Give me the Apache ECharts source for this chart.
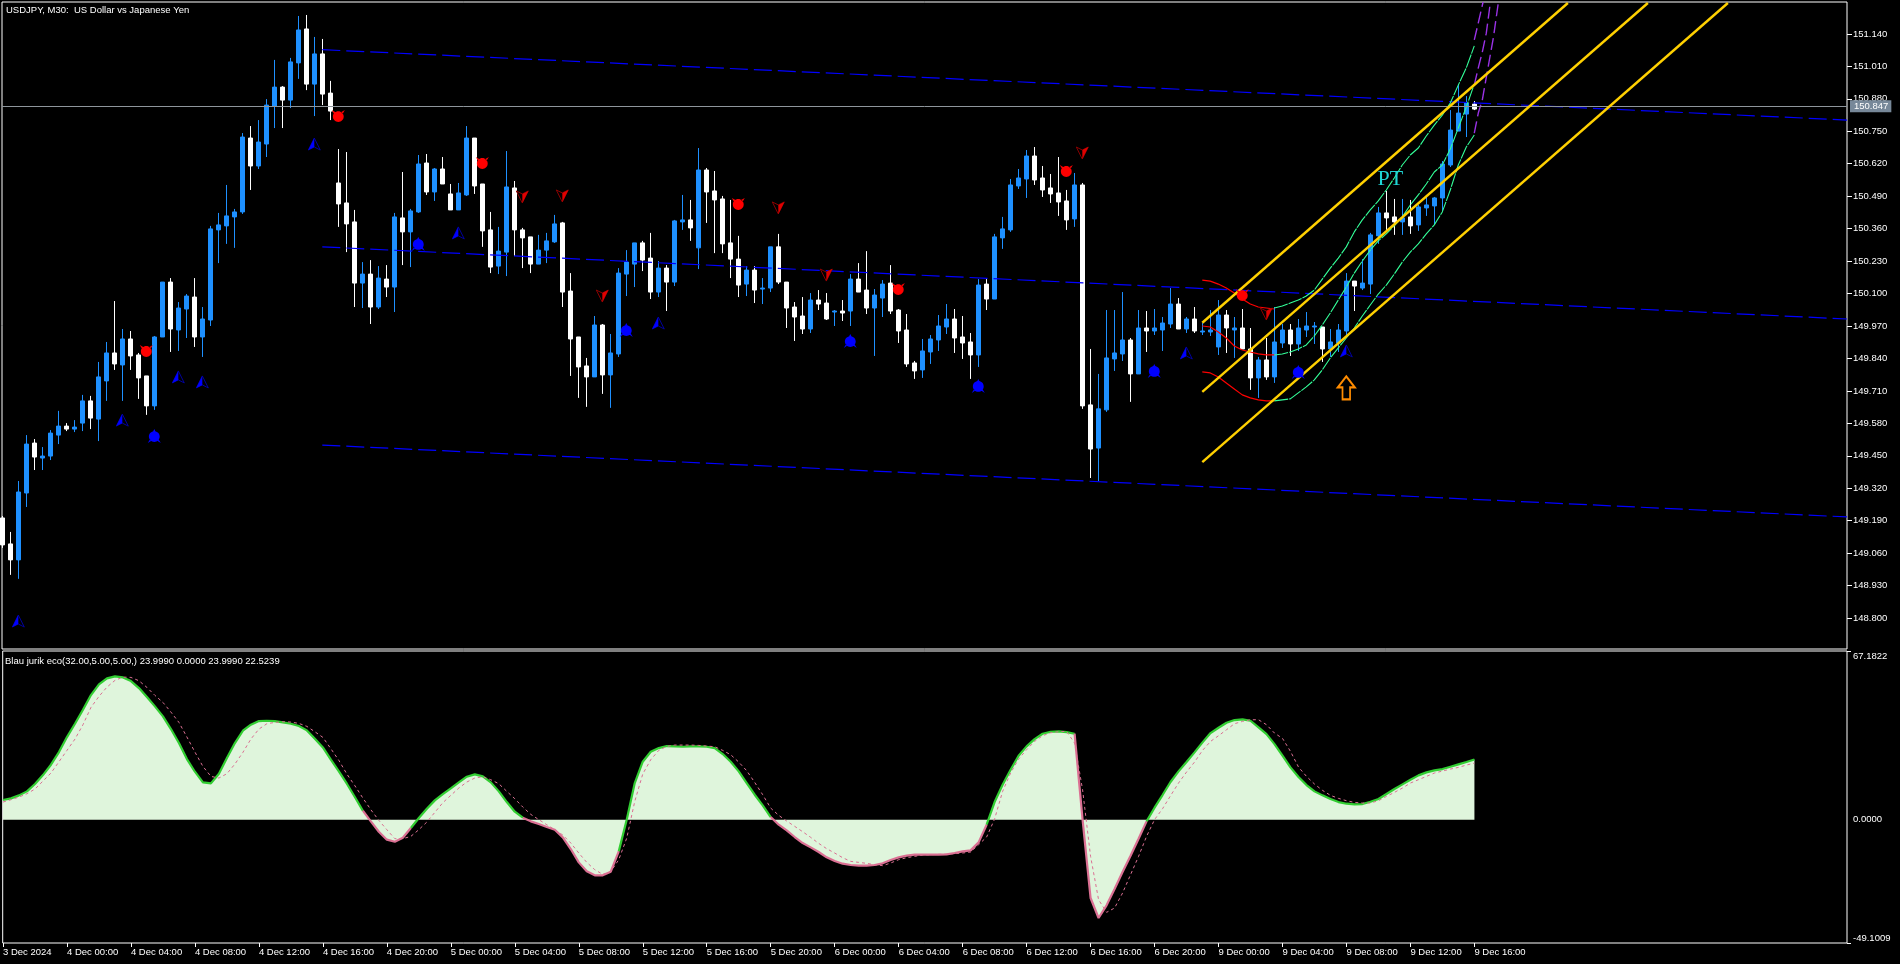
<!DOCTYPE html>
<html><head><meta charset="utf-8"><style>html,body{margin:0;padding:0;background:#000}#c{width:1900px;height:964px}</style>
<script src="https://cdn.jsdelivr.net/npm/echarts@6/dist/echarts.min.js"></script></head><body><div id="c"></div>
<script>
const opens=[149.201,149.097,149.033,149.301,149.501,149.441,149.449,149.533,149.569,149.557,
149.581,149.670,149.597,149.750,149.862,149.814,149.918,149.854,149.770,149.650,
149.926,150.146,149.954,150.038,150.086,149.926,149.994,150.355,150.371,150.407,
150.427,150.723,150.611,150.699,150.851,150.927,150.875,151.024,151.160,150.939,
151.060,150.903,150.543,150.463,150.387,150.142,150.178,150.046,150.158,150.126,
150.403,150.347,150.427,150.623,150.507,150.599,150.499,150.435,150.495,150.723,
150.539,150.355,150.210,150.266,150.523,150.355,150.327,150.218,150.274,150.307,
150.383,150.110,149.926,149.810,149.766,149.974,149.774,149.858,150.178,150.218,
150.303,150.242,150.106,150.202,150.146,150.387,150.395,150.283,150.595,150.511,
150.479,150.303,150.238,150.138,150.194,150.118,150.122,150.287,150.146,150.046,
150.010,149.958,150.074,150.062,150.026,150.030,150.030,150.158,150.114,150.042,
150.082,150.142,150.034,149.954,149.822,149.794,149.866,149.914,149.966,149.998,
149.926,149.906,149.854,150.138,150.078,150.323,150.355,150.531,150.559,150.651,
150.563,150.523,150.503,150.471,150.399,150.535,149.654,149.481,149.634,149.838,
149.858,149.914,149.778,149.962,149.950,149.954,149.978,150.058,149.958,149.998,
149.946,149.946,149.886,150.014,149.954,149.962,149.878,149.762,149.834,149.766,
149.902,149.954,149.898,149.954,149.966,149.966,149.878,149.902,149.950,150.150,
150.122,150.138,150.331,150.423,150.407,150.387,150.407,150.375,150.443,150.451,
150.483,150.615,150.751,150.819,150.859];
const closes=[149.093,149.033,149.305,149.497,149.445,149.449,149.541,149.569,149.557,149.565,
149.670,149.601,149.766,149.862,149.818,149.918,149.850,149.762,149.650,149.926,
150.146,149.958,150.042,150.090,149.926,149.998,150.359,150.375,150.411,150.427,
150.727,150.611,150.707,150.855,150.927,150.875,151.028,151.156,150.939,151.060,
150.899,150.831,150.459,150.379,150.142,150.178,150.046,150.162,150.126,150.407,
150.347,150.431,150.619,150.507,150.599,150.539,150.435,150.503,150.723,150.531,
150.351,150.206,150.270,150.527,150.355,150.323,150.218,150.274,150.311,150.379,
150.106,149.918,149.806,149.766,149.974,149.774,149.862,150.182,150.226,150.303,
150.234,150.106,150.202,150.146,150.391,150.395,150.363,150.595,150.507,150.475,
150.299,150.238,150.134,150.194,150.114,150.122,150.287,150.146,150.042,150.006,
149.958,150.074,150.058,149.998,150.030,150.022,150.158,150.106,150.042,150.094,
150.138,150.030,149.950,149.818,149.790,149.870,149.918,149.970,149.998,149.922,
149.902,149.854,150.134,150.078,150.327,150.359,150.535,150.563,150.651,150.555,
150.515,150.499,150.467,150.395,150.535,149.650,149.477,149.638,149.842,149.862,
149.914,149.778,149.962,149.950,149.962,149.982,150.058,149.958,149.998,149.950,
149.950,149.954,150.014,149.962,149.962,149.878,149.762,149.834,149.766,149.906,
149.954,149.898,149.962,149.970,149.970,149.878,149.906,149.954,150.150,150.130,
150.142,150.335,150.423,150.403,150.387,150.403,150.371,150.447,150.455,150.483,
150.619,150.755,150.823,150.863,150.839];
const highs=[149.209,149.145,149.349,149.533,149.517,149.485,149.553,149.630,149.581,149.593,
149.694,149.690,149.826,149.906,150.070,149.958,149.950,149.862,149.770,149.930,
150.146,150.162,150.066,150.098,150.162,150.046,150.371,150.423,150.535,150.439,
150.743,150.771,150.795,150.879,151.036,150.931,151.044,151.212,151.216,151.128,
151.120,150.952,150.679,150.667,150.435,150.226,150.234,150.210,150.214,150.423,
150.587,150.439,150.655,150.659,150.603,150.647,150.539,150.543,150.771,150.723,
150.539,150.427,150.367,150.671,150.551,150.363,150.327,150.335,150.343,150.415,
150.387,150.182,149.926,149.842,150.010,149.978,149.938,150.202,150.274,150.303,
150.311,150.343,150.230,150.214,150.395,150.495,150.475,150.683,150.603,150.591,
150.491,150.475,150.331,150.210,150.210,150.162,150.287,150.339,150.146,150.066,
150.086,150.102,150.114,150.102,150.034,150.074,150.178,150.222,150.270,150.118,
150.154,150.214,150.038,150.018,149.830,149.918,149.934,150.014,150.058,150.038,
150.010,149.942,150.158,150.158,150.339,150.407,150.559,150.599,150.675,150.687,
150.611,150.579,150.647,150.515,150.583,150.543,149.878,149.778,150.034,150.034,
150.106,149.922,150.034,150.030,150.038,150.006,150.122,150.082,150.006,150.046,
149.982,150.034,150.074,150.034,150.006,150.038,149.962,149.846,149.922,150.046,
149.978,149.978,149.998,150.026,149.986,149.966,149.958,149.978,150.182,150.150,
150.238,150.343,150.447,150.511,150.479,150.479,150.475,150.455,150.487,150.487,
150.631,150.835,150.939,150.891,150.871];
const lows=[149.081,148.973,148.957,149.245,149.393,149.393,149.433,149.497,149.549,149.545,
149.549,149.557,149.509,149.670,149.794,149.670,149.794,149.678,149.614,149.634,
149.926,149.866,149.870,149.922,149.886,149.846,149.970,150.222,150.299,150.283,
150.419,150.515,150.599,150.647,150.763,150.763,150.843,150.960,150.915,150.811,
150.855,150.795,150.367,150.266,150.046,150.042,149.978,150.038,150.086,150.026,
150.214,150.206,150.423,150.495,150.471,150.539,150.435,150.435,150.491,150.499,
150.287,150.182,150.178,150.170,150.250,150.202,150.182,150.218,150.222,150.303,
150.046,149.770,149.682,149.646,149.766,149.698,149.642,149.846,150.090,150.126,
150.190,150.078,150.086,150.030,150.130,150.355,150.311,150.198,150.383,150.262,
150.262,150.162,150.086,150.090,150.062,150.058,150.106,150.138,149.962,149.910,
149.938,149.942,150.034,149.994,149.970,149.990,149.970,150.106,150.018,149.850,
150.006,150.018,149.902,149.806,149.758,149.762,149.818,149.870,149.938,149.862,
149.838,149.758,149.806,150.034,150.078,150.279,150.347,150.519,150.483,150.535,
150.487,150.463,150.411,150.355,150.367,149.638,149.361,149.349,149.626,149.790,
149.830,149.666,149.778,149.866,149.934,149.870,149.962,149.958,149.942,149.942,
149.934,149.930,149.854,149.862,149.842,149.878,149.714,149.682,149.754,149.742,
149.882,149.850,149.870,149.926,149.898,149.826,149.846,149.866,149.930,150.030,
150.114,150.098,150.299,150.355,150.335,150.335,150.339,150.351,150.411,150.375,
150.431,150.607,150.751,150.727,150.835];

const timeLabels=['3 Dec 2024','4 Dec 00:00','4 Dec 04:00','4 Dec 08:00','4 Dec 12:00','4 Dec 16:00','4 Dec 20:00',
'5 Dec 00:00','5 Dec 04:00','5 Dec 08:00','5 Dec 12:00','5 Dec 16:00','5 Dec 20:00',
'6 Dec 00:00','6 Dec 04:00','6 Dec 08:00','6 Dec 12:00','6 Dec 16:00','6 Dec 20:00',
'9 Dec 00:00','9 Dec 04:00','9 Dec 08:00','9 Dec 12:00','9 Dec 16:00'];
const barsPerTimeLabel=8;
const priceTicks=[151.140,151.010,150.880,150.750,150.620,150.490,150.360,150.230,150.100,149.970,149.840,149.710,149.580,149.450,149.320,149.190,149.060,148.930,148.800];
const lastPrice=150.847;

const blau=[7.83,8.49,9.69,11.28,14.20,17.78,21.90,26.94,32.91,38.22,
43.79,49.63,53.88,56.26,57.06,56.66,55.20,52.42,48.83,45.12,
41.14,36.09,30.52,24.15,19.11,14.86,14.46,18.31,24.55,30.52,
35.43,37.82,39.28,39.41,39.28,38.75,38.22,37.29,35.56,32.25,
28.80,23.89,19.24,14.33,9.02,3.58,-0.66,-4.78,-7.96,-8.76,
-7.17,-3.32,0.66,4.38,7.70,10.22,12.47,14.86,17.12,18.05,
17.25,14.86,11.28,7.03,3.18,0.80,-0.66,-1.73,-2.92,-3.98,
-7.03,-11.68,-16.99,-20.57,-22.16,-22.16,-20.70,-12.61,0.05,14.60,
23.09,27.07,28.53,29.33,29.19,29.06,29.19,29.19,29.06,28.53,
26.14,23.09,19.24,14.60,9.95,5.71,1.06,-1.99,-4.25,-6.90,
-9.29,-11.01,-12.87,-15.00,-16.45,-17.52,-18.05,-18.31,-18.31,-18.05,
-17.38,-16.06,-15.00,-14.33,-13.93,-13.93,-13.93,-13.93,-13.80,-13.27,
-12.61,-12.21,-9.02,-1.99,7.03,13.93,19.91,25.48,29.19,32.11,
34.24,35.03,35.17,34.90,34.24,0.05,-31.18,-39.15,-34.10,-27.60,
-20.83,-14.33,-7.56,-0.66,4.78,9.82,15.00,19.24,22.96,26.81,
30.79,34.50,36.63,38.62,39.68,39.94,39.41,36.76,34.10,30.12,
25.48,20.83,16.99,13.80,11.28,9.69,8.23,7.03,6.37,6.10,
6.24,7.17,8.23,10.22,12.21,14.07,15.92,17.65,18.84,19.64,
20.17,21.10,22.03,22.96,23.999];
const blauSignal=[7.03,7.96,9.02,10.35,12.21,15.39,18.58,23.09,27.60,32.11,
37.82,44.72,49.10,52.81,55.47,56.80,56.66,55.34,52.68,49.50,
46.71,42.86,38.75,32.91,26.94,21.23,17.25,16.59,18.31,22.16,
26.81,32.11,36.09,38.22,38.75,39.01,38.88,38.35,37.16,35.03,
32.78,28.27,23.62,18.18,13.54,8.63,3.98,-0.27,-3.98,-7.56,
-7.56,-6.64,-3.98,-0.93,2.92,6.77,9.69,12.61,15.00,16.59,
17.12,15.92,14.33,11.28,8.36,5.04,2.12,0.03,-1.99,-3.98,
-6.10,-9.29,-13.27,-16.99,-19.91,-21.76,-20.70,-15.92,-7.30,7.30,
18.18,23.89,27.60,29.19,29.72,29.72,29.72,29.59,29.33,29.06,
27.60,25.88,22.96,19.51,14.86,9.95,4.64,1.73,-0.53,-2.65,
-4.78,-7.03,-9.42,-11.54,-13.27,-15.13,-16.59,-16.99,-17.38,-17.91,
-18.31,-17.25,-15.92,-15.13,-14.60,-14.07,-13.93,-13.80,-13.67,-13.54,
-13.27,-12.87,-9.95,-6.90,0.27,11.28,18.58,24.15,27.87,31.18,
33.44,34.63,35.03,35.17,30.52,11.94,-14.60,-31.85,-36.89,-35.17,
-29.19,-21.90,-14.60,-6.64,0.03,4.38,9.55,14.60,18.98,22.96,
27.60,31.18,33.44,35.83,38.22,39.15,39.81,39.81,37.82,34.50,
32.38,27.20,20.97,17.25,14.20,11.68,9.69,8.49,7.56,6.90,
6.64,6.64,7.56,9.29,10.88,12.61,14.60,15.92,17.25,18.58,
19.37,20.17,20.83,21.76,22.5239];
const blauPinkRanges=[[45,51],[65,77],[96,123],[134,143]];

const trendTop=[[40,151.077],[230.6,150.795]];
const trendMid=[[40,150.287],[230.6,149.998]];
const trendLow=[[40,149.493],[230.6,149.205]];
const channelTop=[[150,149.983],[195.7,151.264]];
const channelMid=[[150,149.706],[205.7,151.264]];
const channelLow=[[150,149.425],[215.7,151.264]];

const curveRedFrom=150;
const redUpper=[150.154,150.150,150.138,150.122,150.102,150.078,150.058,150.046,150.042,150.038];
const redMiddle=[149.970,149.966,149.946,149.922,149.890,149.874,149.866,149.858,149.854,149.854];
const redLower=[149.786,149.782,149.766,149.742,149.718,149.694,149.682,149.674,149.670,149.670];
const curveGreenFrom=159;
const greenUpper=[150.042,150.050,150.062,150.074,150.090,150.114,150.158,150.202,150.242,150.287,150.347,150.395,150.435,150.471,150.515,150.563,150.615,150.655,150.683,150.731,150.775,150.815,150.863,150.935,151.004,151.092];
const greenMiddle=[149.854,149.858,149.866,149.878,149.894,149.930,149.974,150.022,150.074,150.126,150.182,150.230,150.274,150.311,150.339,150.371,150.407,150.455,150.495,150.539,150.587,150.615,150.679,150.763,150.847,150.939];
const greenLower=[149.670,149.674,149.678,149.702,149.726,149.754,149.794,149.842,149.882,149.922,149.962,150.010,150.054,150.098,150.134,150.178,150.226,150.266,150.299,150.339,150.375,150.427,150.515,150.615,150.687,150.735];
const purpleUpper=[[184,151.116],[184.5,151.184],[185.1,151.268]];
const purpleMiddle=[[184,150.935],[184.5,151.004],[185,151.067],[185.5,151.143],[186,151.264]];
const purpleLower=[[184,150.743],[184.5,150.823],[185,150.875],[185.6,150.984],[186.4,151.128],[187,151.264]];

const redDots=[[42,150.811],[60,150.623],[18,149.870],[92,150.459],[112,150.118],[133,150.591],[155,150.094]];
const blueDots=[[52,150.299],[19,149.529],[78,149.954],[106,149.910],[122,149.730],[144,149.790],[162,149.786]];
const blueArrows=[[39,150.699],[57,150.343],[2,148.788],[15,149.593],[22,149.766],[25,149.746],[82,149.982],[148,149.862],[168,149.870]];
const redArrows=[[65,150.487],[70,150.491],[75,150.090],[97,150.443],[103,150.174],[135,150.663],[158,150.018]];
const orangeArrow=[[168,149.722]];
const ptLabel=[[173.5,150.559]];

const FONT='"Liberation Sans",sans-serif', FS=9.5;
const xMin=-0.0375,xMax=230.59;
const timeTicks=timeLabels.map((_,i)=>i*barsPerTimeLabel);
const idx=a=>a.map((v,i)=>[i,v]);
const seq=(from,a)=>a.map((v,i)=>[from+i,v]);
const isPink=i=>blauPinkRanges.some(r=>i>=r[0]&&i<=r[1]);
const insidePink=i=>blauPinkRanges.some(r=>i>r[0]&&i<r[1]);
const line=(name,data,color,width,type,extra)=>Object.assign({name,type:'line',data,showSymbol:false,symbol:'none',
  lineStyle:{color,width,type},silent:true,animation:false,z:3},extra||{});
const sc=(name,data,symbol,size,color,border,extra)=>Object.assign({name,type:'scatter',data,symbol,symbolSize:size,
  itemStyle:{color,borderColor:border||color,borderWidth:border?1:0,opacity:1},silent:true,z:5},extra||{});

const CIRCLE='C1 4.2 3.2 2 6 2C8.8 2 11 4.2 11 7C11 9.8 8.8 12 6 12C3.2 12 1 9.8 1 7Z';
const RED_DOT='path://M1 7'+CIRCLE+'M0 1L3.5 3L2 4.5ZM12 1L8.5 3L10 4.5Z';
const BLUE_DOT='path://M1 7'+CIRCLE+'M6 0L7.5 3L4.5 3ZM0 13L3 11L2 9.5ZM12 13L9 11L10 9.5Z';
const UP_FULL='path://M6 0L12 12L6 9L0 12Z', DOWN_FULL='path://M6 12L12 0L6 3L0 0Z';
const UP_HALF='path://M6 0L6 9L0 12Z', DOWN_HALF='path://M6 12L6 3L12 0Z';
const HOLLOW_UP='path://M9 0L18 11L13 11L13 23L5 23L5 11L0 11Z';

const chart=echarts.init(document.getElementById('c'),null,{renderer:'canvas'});
chart.setOption({
  animation:false,backgroundColor:'#000',
  title:[
    {text:'USDJPY, M30:  US Dollar vs Japanese Yen',left:6,top:5,padding:0,textStyle:{color:'#fff',fontSize:FS,fontWeight:'normal',fontFamily:FONT}},
    {text:'Blau jurik eco(32.00,5.00,5.00,) 23.9990 0.0000 23.9990 22.5239',left:5,top:656,padding:0,textStyle:{color:'#fff',fontSize:FS,fontWeight:'normal',fontFamily:FONT}}
  ],
  grid:[
    {left:2,right:53,top:2,bottom:315,show:true,borderColor:'#fff',borderWidth:1,backgroundColor:'#000'},
    {left:2,right:53,top:651,bottom:21,show:true,borderColor:'#fff',borderWidth:1,backgroundColor:'#000'}
  ],
  xAxis:[
    {type:'value',gridIndex:0,min:xMin,max:xMax,axisLine:{show:false,onZero:false},axisTick:{show:false},axisLabel:{show:false},splitLine:{show:false}},
    {type:'value',gridIndex:1,min:xMin,max:xMax,position:'bottom',axisLine:{show:false,onZero:false},splitLine:{show:false},
     axisTick:{show:true,length:4,lineStyle:{color:'#fff',width:1},customValues:timeTicks},
     axisLabel:{show:true,customValues:timeTicks,color:'#fff',fontSize:FS,fontFamily:FONT,align:'left',margin:4,showMinLabel:true,showMaxLabel:true,hideOverlap:false,
       formatter:v=>timeLabels[Math.round(v/barsPerTimeLabel)]}}
  ],
  yAxis:[
    {type:'value',gridIndex:0,min:148.676,max:151.268,position:'right',axisLine:{show:false,onZero:false},splitLine:{show:false},
     axisTick:{show:true,length:5,lineStyle:{color:'#fff',width:1},customValues:priceTicks},
     axisLabel:{show:true,customValues:priceTicks,color:'#fff',fontSize:FS,fontFamily:FONT,margin:6,formatter:v=>v.toFixed(3)}},
    {type:'value',gridIndex:1,min:-49.1009,max:67.1822,position:'right',axisLine:{show:false,onZero:false},splitLine:{show:false},
     axisTick:{show:true,length:4,lineStyle:{color:'#fff',width:1},customValues:[-49.1009,67.1822]},
     axisLabel:{show:true,customValues:[-49.1009,0,67.1822],color:'#fff',fontSize:FS,fontFamily:FONT,margin:6,
       verticalAlignMinLabel:'bottom',verticalAlignMaxLabel:'top',formatter:v=>v.toFixed(4)}}
  ],
  series:[
    {name:'USDJPY',type:'candlestick',xAxisIndex:0,yAxisIndex:0,barWidth:5,clip:true,silent:true,z:2,
     encode:{x:0,y:[1,2,3,4]},
     data:opens.map((o,i)=>[i,o,closes[i],lows[i],highs[i]]),
     itemStyle:{color:'#1e90ff',color0:'#ffffff',borderColor:'#1e90ff',borderColor0:'#ffffff',borderWidth:1},
     markLine:{silent:true,symbol:'none',animation:false,z:4,lineStyle:{color:'#8e959b',width:1,type:'solid'},
       label:{show:true,position:'end',distance:3,formatter:()=>lastPrice.toFixed(3),color:'#fff',backgroundColor:'#778899',padding:[1,3,1,4],fontSize:FS,fontFamily:FONT},
       data:[{yAxis:lastPrice}]}},
    line('Trend top',trendTop,'#0000ff',1.2,[18,6]),
    line('Trend mid',trendMid,'#0000ff',1.2,[18,6]),
    line('Trend low',trendLow,'#0000ff',1.2,[18,6]),
    line('Red upper',seq(curveRedFrom,redUpper),'#ff0000',1.2,'solid'),
    line('Red middle',seq(curveRedFrom,redMiddle),'#ff0000',1.2,'solid'),
    line('Red lower',seq(curveRedFrom,redLower),'#ff0000',1.2,'solid'),
    line('Green upper',seq(curveGreenFrom,greenUpper),'#33ff99',1.1,[14,1]),
    line('Green middle',seq(curveGreenFrom,greenMiddle),'#33ff99',1.1,[14,1]),
    line('Green lower',seq(curveGreenFrom,greenLower),'#33ff99',1.1,[14,1]),
    line('Purple upper',purpleUpper,'#9a32e6',1.4,[12,5]),
    line('Purple middle',purpleMiddle,'#9a32e6',1.4,[12,5]),
    line('Purple lower',purpleLower,'#9a32e6',1.4,[12,5]),
    line('Channel top',channelTop,'#ffd000',2.4,'solid',{z:4}),
    line('Channel mid',channelMid,'#ffd000',2.4,'solid',{z:4}),
    line('Channel low',channelLow,'#ffd000',2.4,'solid',{z:4}),
    sc('Red dots',redDots,RED_DOT,[13,12],'#ff0000'),
    sc('Blue dots',blueDots,BLUE_DOT,[13,14],'#0000ff'),
    sc('Blue arrow outline',blueArrows,UP_FULL,[12,12],'rgba(0,0,0,0)','#00009a'),
    sc('Blue arrow fill',blueArrows,UP_HALF,[6,12],'#0000ff',null,{symbolOffset:[-3,0]}),
    sc('Red arrow outline',redArrows,DOWN_FULL,[12,12],'rgba(0,0,0,0)','#8a0000'),
    sc('Red arrow fill',redArrows,DOWN_HALF,[6,12],'#e00000',null,{symbolOffset:[3,0]}),
    sc('Orange arrow',orangeArrow,HOLLOW_UP,[17,23],'rgba(0,0,0,0)','#ff8c00',{itemStyle:{color:'rgba(0,0,0,0)',borderColor:'#ff8c00',borderWidth:2,opacity:1}}),
    sc('PT',ptLabel,'circle',0,'rgba(0,0,0,0)',null,{label:{show:true,position:'inside',formatter:'PT',color:'#1fd6d6',fontSize:22,fontFamily:'"Liberation Serif",serif'}}),
    line('Blau area',idx(blau),'#dff5dc',0,'solid',{xAxisIndex:1,yAxisIndex:1,areaStyle:{color:'#dff5dc',opacity:1,origin:0},z:2}),
    line('Blau up',blau.map((v,i)=>[i,insidePink(i)?null:v]),'#32cd32',2.2,'solid',{xAxisIndex:1,yAxisIndex:1,connectNulls:false,z:3}),
    line('Blau down',blau.map((v,i)=>[i,isPink(i)?v:null]),'#db7093',2.2,'solid',{xAxisIndex:1,yAxisIndex:1,connectNulls:false,z:4}),
    line('Blau signal',idx(blauSignal),'#db7093',1,[3,3],{xAxisIndex:1,yAxisIndex:1,z:5})
  ]
});
</script></body></html>
